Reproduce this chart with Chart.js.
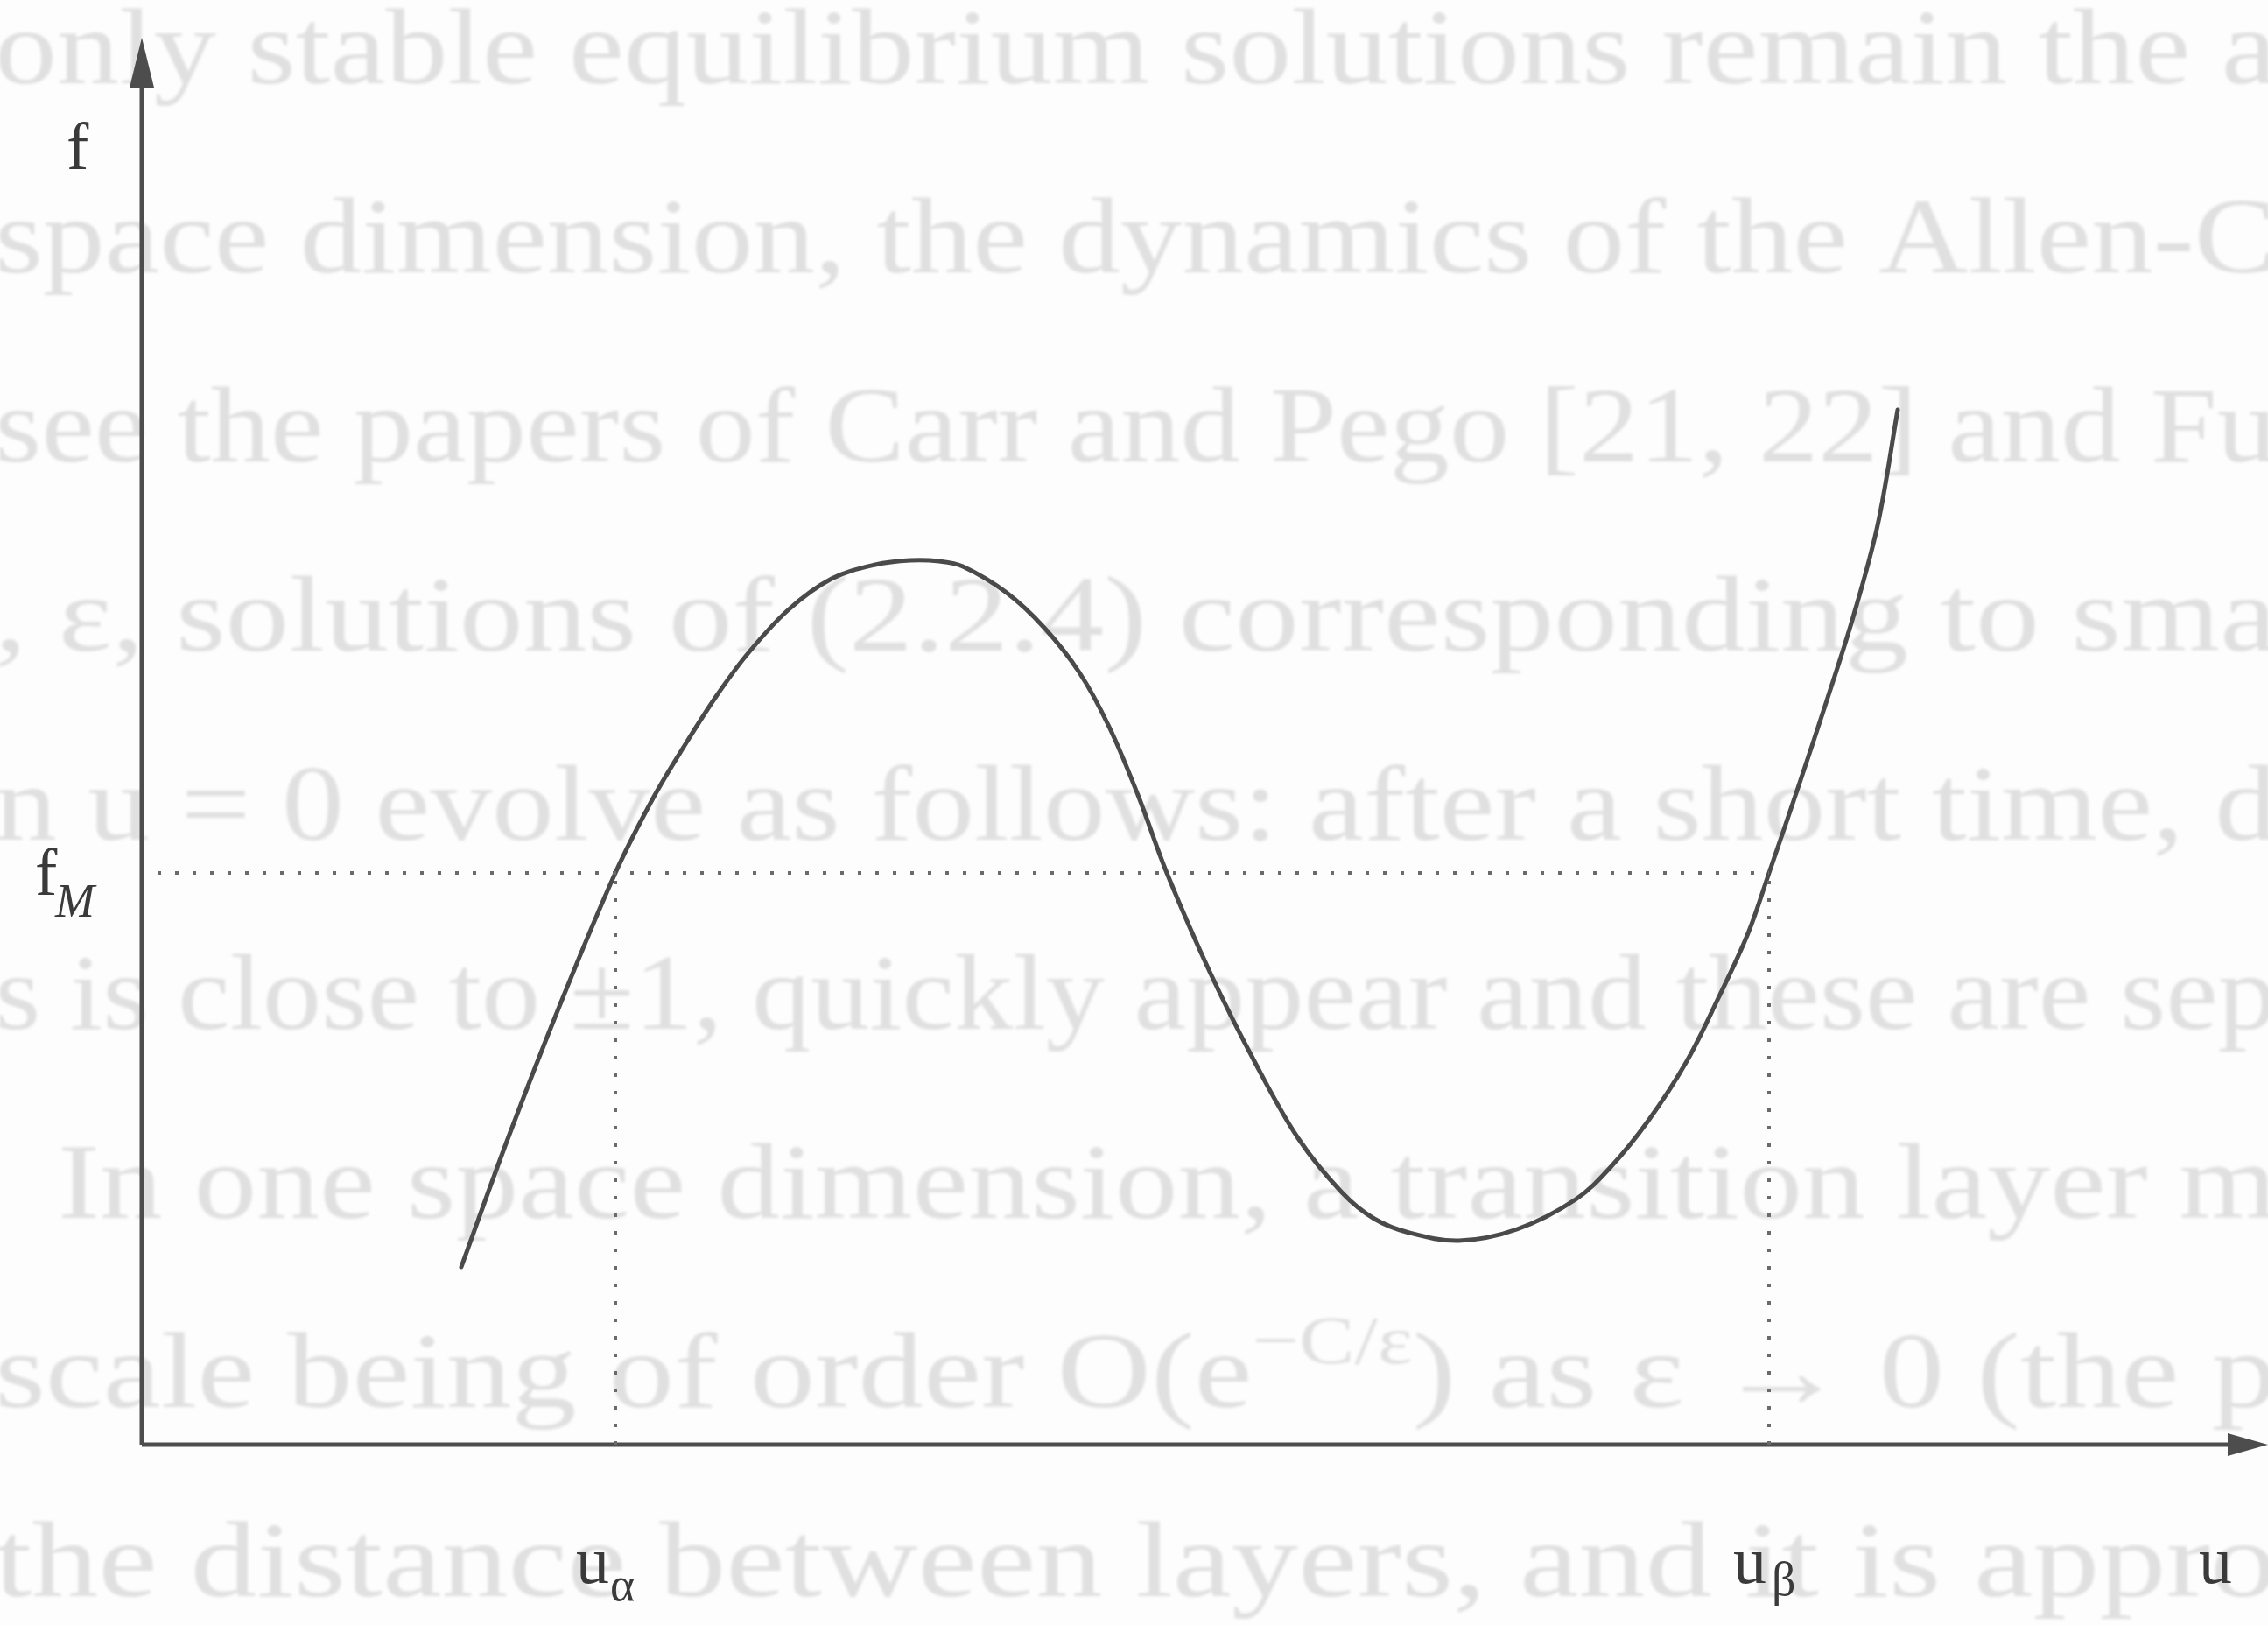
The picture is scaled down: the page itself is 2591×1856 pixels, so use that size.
<!DOCTYPE html>
<html>
<head>
<meta charset="utf-8">
<title>f(u) curve</title>
<script src="https://cdn.jsdelivr.net/npm/chart.js"></script>
<style>
  html, body { margin: 0; padding: 0; background: #fdfdfd; }
  #box { width: 2591px; height: 1856px; position: relative; }
</style>
</head>
<body>
<div id="box"><canvas id="myChart"></canvas></div>
<script>
'use strict';

// curve (arbitrary units, origin at the axes corner)
let curveU = [3.65, 4.18, 4.78, 5.41, 5.85, 6.21, 6.55, 6.91, 7.38, 7.88, 8.38, 8.78, 9.11, 9.38, 9.88, 10.31, 10.71, 11.05, 11.38, 11.71, 12.21, 12.71, 13.21, 13.71, 14.08, 14.48, 15.05, 15.71, 16.38, 16.78, 17.21, 17.65, 18.01, 18.35, 18.59, 18.93, 19.25, 19.55, 19.83, 20.06];
let curveF = [2.03, 3.49, 5.03, 6.53, 7.40, 8.00, 8.53, 9.02, 9.53, 9.89, 10.05, 10.10, 10.09, 10.03, 9.73, 9.33, 8.82, 8.20, 7.42, 6.53, 5.38, 4.38, 3.50, 2.88, 2.58, 2.42, 2.33, 2.46, 2.80, 3.17, 3.70, 4.38, 5.10, 5.84, 6.53, 7.53, 8.50, 9.45, 10.50, 11.82];

let fM = 6.53;
let uAlpha = 5.41;
let uBeta = 18.59;
let uMax = 24.29;
let fMax = 16.07;

let axisNames = ['u', 'f'];
let markNames = ['f', 'M', 'u', '\u03b1', 'u', '\u03b2'];

// text from the other side of the page showing through the scan
let pageLines = [
  'only stable equilibrium solutions remain the a',
  'space dimension, the dynamics of the Allen-C',
  'see the papers of Carr and Pego [21, 22] and Fu',
  ', \u03b5, solutions of (2.2.4) corresponding to sma',
  'n u = 0 evolve as follows: after a short time, d',
  's is close to \u00b11, quickly appear and these are sep',
  'In one space dimension, a transition layer m',
  'scale being of order O(e^{\u2212C/\u03b5}) as \u03b5 \u2192 0 (the p',
  'the distance between layers, and it is appro'
];

let curveData = [];
for (let i = 0; i < curveU.length; i++) {
  curveData.push({ x: curveU[i], y: curveF[i] });
}

let serif = '"Liberation Serif", "DejaVu Serif", serif';

function lineParts(ctx, text) {
  let parts = text.split(/\^\{(.*?)\}/);
  let out = [];
  let w = 0;
  for (let p = 0; p < parts.length; p++) {
    let sup = (p % 2 === 1);
    ctx.font = (sup ? '78px ' : '122px ') + serif;
    let pw = ctx.measureText(parts[p]).width;
    out.push({ text: parts[p], sup: sup, x: w });
    w += pw;
  }
  return { parts: out, width: w };
}

function drawPageText(ctx, width) {
  ctx.save();
  ctx.fillStyle = '#e0e0e0';
  ctx.filter = 'blur(1.5px)';
  ctx.textBaseline = 'alphabetic';
  for (let i = 0; i < pageLines.length; i++) {
    let y = 95 + i * 216;
    let x0 = (i === 6) ? 66 : -6;
    let line = lineParts(ctx, pageLines[i]);
    // the bled-through type is wider than ours, stretch it to the page edge
    let sx = (width + 10 - x0) / line.width;
    ctx.save();
    ctx.translate(x0, y);
    ctx.scale(sx, 1);
    for (let p = 0; p < line.parts.length; p++) {
      let part = line.parts[p];
      ctx.font = (part.sup ? '78px ' : '122px ') + serif;
      ctx.fillText(part.text, part.x, part.sup ? -50 : 0);
    }
    ctx.restore();
  }
  ctx.restore();
}

let figureDecor = {
  id: 'figureDecor',
  beforeDraw(chart) {
    let ctx = chart.ctx;
    ctx.save();
    ctx.fillStyle = '#fdfdfd';
    ctx.fillRect(0, 0, chart.width, chart.height);
    ctx.restore();
    drawPageText(ctx, chart.width);
  },
  beforeDatasetsDraw(chart) {
    let ctx = chart.ctx;
    let xs = chart.scales.x;
    let ys = chart.scales.y;
    let x0 = xs.getPixelForValue(0);
    let y0 = ys.getPixelForValue(0);
    let right = xs.getPixelForValue(uMax);
    let top = ys.getPixelForValue(fMax);

    ctx.save();
    ctx.strokeStyle = '#4d4d4d';
    ctx.fillStyle = '#4d4d4d';
    ctx.lineWidth = 5;
    ctx.beginPath();
    ctx.moveTo(x0, y0);
    ctx.lineTo(x0, top + 40);
    ctx.moveTo(x0, y0);
    ctx.lineTo(right - 30, y0);
    ctx.stroke();

    // arrow heads
    ctx.beginPath();
    ctx.moveTo(x0, top);
    ctx.lineTo(x0 - 14, top + 57);
    ctx.lineTo(x0 + 14, top + 57);
    ctx.closePath();
    ctx.fill();
    ctx.beginPath();
    ctx.moveTo(right, y0);
    ctx.lineTo(right - 46, y0 - 13);
    ctx.lineTo(right - 46, y0 + 13);
    ctx.closePath();
    ctx.fill();
    ctx.restore();
  },
  afterDraw(chart) {
    let ctx = chart.ctx;
    let xs = chart.scales.x;
    let ys = chart.scales.y;
    let x0 = xs.getPixelForValue(0);
    let y0 = ys.getPixelForValue(0);
    let top = ys.getPixelForValue(fMax);
    let yM = ys.getPixelForValue(fM);
    let xa = xs.getPixelForValue(uAlpha);
    let xb = xs.getPixelForValue(uBeta);

    ctx.save();
    ctx.fillStyle = '#3a3a3a';
    ctx.textBaseline = 'alphabetic';
    ctx.textAlign = 'left';
    let big = '76px ' + serif;
    let small = '54px ' + serif;

    ctx.font = big;
    ctx.fillText(axisNames[1], x0 - 86, top + 150);
    ctx.fillText(axisNames[0], 2512, y0 + 158);

    // f_M
    ctx.fillText(markNames[0], x0 - 122, yM + 25);
    ctx.font = 'italic ' + small;
    ctx.fillText(markNames[1], x0 - 99, yM + 50);

    // u_alpha
    ctx.font = big;
    ctx.fillText(markNames[2], xa - 45, y0 + 158);
    ctx.font = small;
    ctx.fillText(markNames[3], xa - 6, y0 + 178);

    // u_beta
    ctx.font = big;
    ctx.fillText(markNames[4], xb - 41, y0 + 158);
    ctx.font = small;
    ctx.fillText(markNames[5], xb + 3, y0 + 172);
    ctx.restore();
  }
};

let dotted = {
  borderColor: '#6a6a6a',
  borderWidth: 4,
  borderDash: [4, 16],
  pointRadius: 0,
  showLine: true,
  fill: false
};

let ctx = document.getElementById('myChart').getContext('2d');
let myChart = new Chart(ctx, {
  type: 'scatter',
  data: {
    datasets: [
      Object.assign({ label: 'fM', data: [{ x: 0.18, y: fM }, { x: uBeta, y: fM }] }, dotted),
      Object.assign({ label: 'uAlpha', data: [{ x: uAlpha, y: 0 }, { x: uAlpha, y: fM }] }, dotted),
      Object.assign({ label: 'uBeta', data: [{ x: uBeta, y: 0 }, { x: uBeta, y: fM }] }, dotted),
      {
        label: 'f(u)',
        data: curveData,
        showLine: true,
        borderColor: '#4a4a4a',
        borderWidth: 5,
        pointRadius: 0,
        tension: 0.35,
        borderCapStyle: 'round',
        borderJoinStyle: 'round',
        fill: false
      }
    ]
  },
  options: {
    responsive: true,
    maintainAspectRatio: false,
    animation: false,
    layout: {
      padding: { left: 162, right: 0, top: 43, bottom: 206 }
    },
    plugins: {
      legend: { display: false },
      tooltip: { enabled: false }
    },
    scales: {
      x: { type: 'linear', min: 0, max: uMax, display: false },
      y: { type: 'linear', min: 0, max: fMax, display: false }
    }
  },
  plugins: [figureDecor]
});
</script>
</body>
</html>
